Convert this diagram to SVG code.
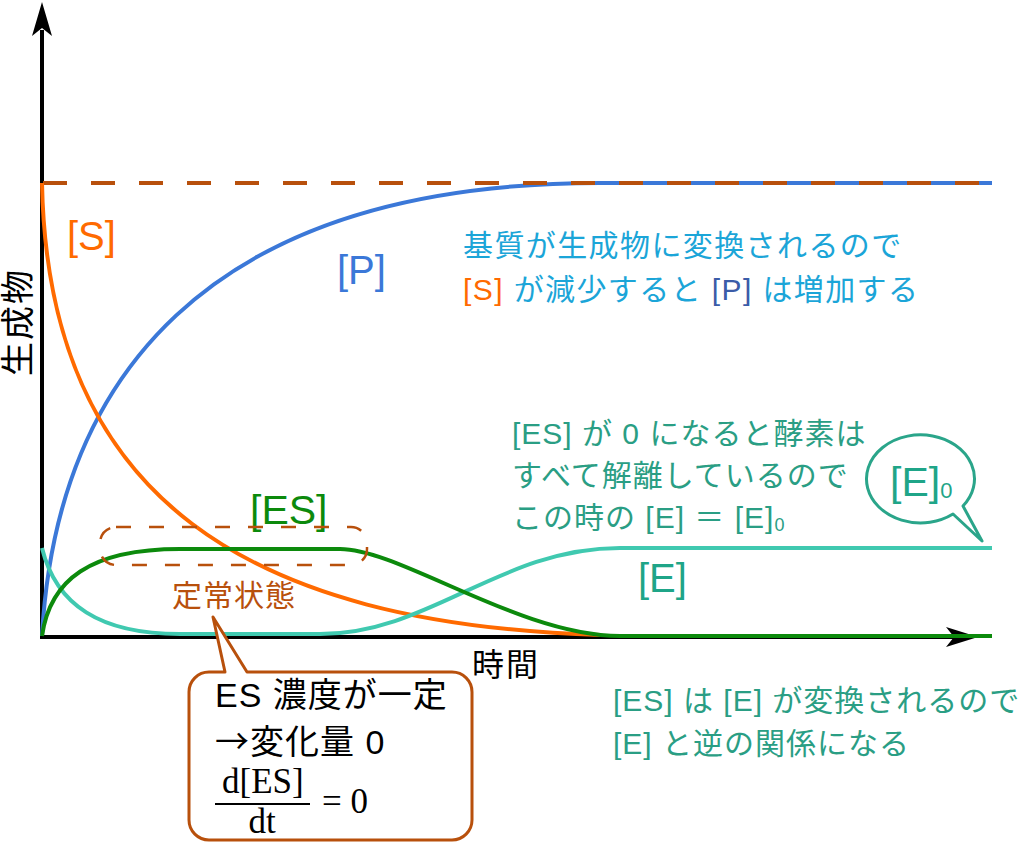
<svg xmlns="http://www.w3.org/2000/svg" width="1024" height="842" viewBox="0 0 1024 842">
<style>
.s{font-family:"Liberation Sans","Noto Sans CJK JP",sans-serif}
.c{fill:none;stroke-width:4;stroke-linecap:butt}
.br{stroke:#B8500C;fill:none}
.tt{fill:#2A9E84;font-size:30px;letter-spacing:1px}
.cy{fill:#1BA5D8;font-size:30px;letter-spacing:1.4px}
.ax{stroke:#000;stroke-width:4;fill:none}
.m{font-family:"Liberation Serif",serif;font-size:35px;fill:#000}
</style>
<rect width="1024" height="842" fill="#fff"/>
<g id="axes">
<path class="ax" d="M42,637 V30 M40,637 H955"/>
<path d="M42,2 L52,36 L42,28 L32,36 Z" fill="#000"/>
<path d="M978,637 L946,627 L954,637 L946,647 Z" fill="#000"/>
</g>
<g id="curves">
<path id="P" class="c" stroke="#3B78D8" d="M42,636 C56,385 200,183 600,183 L992,183"/>
<path id="max" class="c" stroke="#B8500C" stroke-dasharray="24 24" d="M43,183 H992"/>
<path id="S" class="c" stroke="#FF6A00" d="M42,183 C48,500 250,624 600,635"/>
<path id="E" class="c" stroke="#40C9B0" d="M42,548 C56,605 100,634 180,634 L320,634 C430,634 500,548 620,548 L992,548"/>
<path id="ES" class="c" stroke="#0C8A0C" d="M42,636 C50,580 90,549 180,549 L340,549 C400,549 520,636 620,636 L992,636"/>
</g>
<g id="ylabel"><text class="s" font-size="34" letter-spacing="2" text-anchor="middle" transform="translate(30,322) rotate(-90)" fill="#000">生成物</text></g>
<g id="xlabel"><text class="s" x="506" y="676" font-size="32" letter-spacing="2" text-anchor="middle" fill="#000">時間</text></g>
<g id="label-S"><text class="s" x="67" y="250" font-size="40" fill="#FF6A00">[S]</text></g>
<g id="label-P"><text class="s" x="337" y="284" font-size="40" fill="#3B78D8">[P]</text></g>
<g id="label-ES"><text class="s" x="250" y="524" font-size="41" fill="#0C8A0C">[ES]</text></g>
<g id="label-E"><text class="s" x="638" y="592" font-size="40" fill="#1FA588">[E]</text></g>
<g id="note-SP">
<text class="s cy" x="463" y="256">基質が生成物に変換されるので</text>
<text class="s cy" x="463" y="300"><tspan fill="#FF6A00">[S]</tspan> が減少すると <tspan fill="#3B5CA8">[P]</tspan> は増加する</text>
</g>
<g id="note-E0">
<text class="s tt" x="512" y="444">[ES] が 0 になると酵素は</text>
<text class="s tt" x="512" y="486">すべて解離しているので</text>
<text class="s tt" x="512" y="528">この時の [E] ＝ [E]<tspan font-size="18" dy="3">0</tspan></text>
</g>
<g id="bubble">
<path d="M953,514 A54,44 0 1 1 963,506 L982,541 Z" fill="#fff" stroke="#2AA58A" stroke-width="3" stroke-linejoin="round"/>
<text class="s" x="890" y="496" font-size="41" fill="#1FA588">[E]<tspan font-size="22" dy="2">0</tspan></text>
</g>
<g id="steady">
<rect class="br" x="100" y="527" width="267" height="38" rx="16" stroke-width="2.5" stroke-dasharray="15 18"/>
<text class="s" x="172" y="606" font-size="30" letter-spacing="1" fill="#B8500C">定常状態</text>
</g>
<g id="callout">
<path d="M209,672 H225 L213,617 L247,672 H452 A20,20 0 0 1 472,692 V820 A20,20 0 0 1 452,840 H209 A20,20 0 0 1 189,820 V692 A20,20 0 0 1 209,672 Z" fill="#fff" stroke="#B8500C" stroke-width="3" stroke-linejoin="round"/>
<text class="s" x="215" y="707" font-size="34" letter-spacing="1" fill="#000">ES 濃度が一定</text>
<text class="s" x="215" y="754" font-size="34" letter-spacing="1" fill="#000"><tspan font-family="Noto Sans CJK JP,sans-serif">→</tspan>変化量 0</text>
<text class="m" x="222" y="793">d[ES]</text>
<line x1="215" y1="804" x2="310" y2="804" stroke="#000" stroke-width="2"/>
<text class="m" x="262" y="833" text-anchor="middle">dt</text>
<text class="m" x="322" y="813">= 0</text>
</g>
<g id="note-ESE">
<text class="s tt" x="613" y="711">[ES] は [E] が変換されるので</text>
<text class="s tt" x="613" y="754">[E] と逆の関係になる</text>
</g>
</svg>
